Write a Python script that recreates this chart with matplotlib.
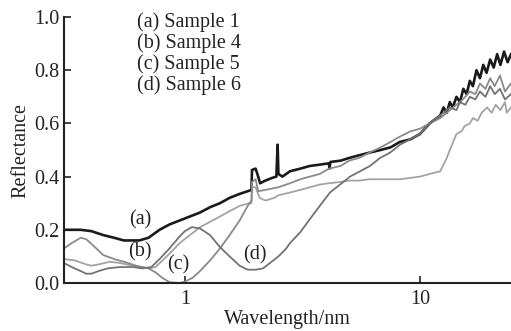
#!/usr/bin/env python3
# -*- coding: utf-8 -*-
# plot.py - reflectance spectra, samples 1/4/5/6

import numpy as np
from matplotlib import pyplot as plt

###############################################################################

# wavelength (nm) / reflectance
wl_a = [0.306, 0.36, 0.40, 0.45, 0.50, 0.55, 0.64, 0.70, 0.78, 0.86, 0.95,
        1.05, 1.16, 1.28, 1.41, 1.55, 1.71, 1.85, 1.92, 1.93, 2.0, 2.05,
        2.09, 2.2, 2.35, 2.45, 2.48, 2.50, 2.6, 2.8, 3.1, 3.4, 3.75, 4.1,
        4.12, 4.16, 4.6, 5.0, 5.5, 6.1, 6.8, 7.5, 8.2, 9.1, 10.0, 11.0,
        12.2, 12.6, 13.0, 13.4, 13.8, 14.3, 14.8, 15.3, 15.8, 16.3, 16.8,
        17.4, 18.0, 18.6, 19.2, 19.9, 20.6, 21.3, 22.0, 22.8, 23.6, 24.4]
r_a = [0.20, 0.20, 0.195, 0.18, 0.17, 0.16, 0.16, 0.17, 0.20, 0.22, 0.235,
       0.25, 0.265, 0.285, 0.30, 0.32, 0.335, 0.345, 0.35, 0.425, 0.43, 0.40,
       0.375, 0.385, 0.395, 0.40, 0.52, 0.41, 0.40, 0.42, 0.43, 0.44, 0.445,
       0.45, 0.43, 0.455, 0.46, 0.47, 0.48, 0.49, 0.50, 0.51, 0.53, 0.54,
       0.56, 0.60, 0.63, 0.66, 0.64, 0.68, 0.66, 0.70, 0.68, 0.73, 0.71,
       0.76, 0.74, 0.80, 0.77, 0.82, 0.79, 0.84, 0.81, 0.86, 0.82, 0.87,
       0.83, 0.86]

wl_b = [0.306, 0.34, 0.38, 0.40, 0.43, 0.48, 0.53, 0.60, 0.70, 0.75, 0.86,
        0.95, 1.05, 1.16, 1.28, 1.41, 1.55, 1.71, 1.88, 1.92, 1.93, 2.0,
        2.08, 2.2, 2.4, 2.5, 2.8, 3.1, 3.4, 3.75, 4.1, 4.6, 5.0, 5.5, 6.1,
        6.8, 7.5, 8.2, 9.1, 10.0, 11.0, 12.2, 13.0, 13.4, 14.3, 15.0, 15.5,
        16.3, 16.8, 17.6, 18.3, 19.3, 20.2, 21.0, 22.0, 23.0, 23.4, 24.4]
r_b = [0.09, 0.085, 0.07, 0.065, 0.07, 0.08, 0.075, 0.065, 0.055, 0.06,
       0.11, 0.15, 0.18, 0.21, 0.23, 0.25, 0.27, 0.29, 0.30, 0.30, 0.36,
       0.36, 0.32, 0.31, 0.32, 0.33, 0.34, 0.35, 0.36, 0.37, 0.375, 0.38,
       0.385, 0.385, 0.39, 0.39, 0.39, 0.39, 0.395, 0.40, 0.41, 0.42, 0.47,
       0.50, 0.56, 0.57, 0.59, 0.60, 0.62, 0.61, 0.64, 0.66, 0.64, 0.67,
       0.65, 0.68, 0.64, 0.66]

wl_c = [0.306, 0.33, 0.36, 0.38, 0.42, 0.45, 0.50, 0.55, 0.62, 0.70, 0.75,
        0.80, 0.86, 0.95, 1.0, 1.08, 1.16, 1.28, 1.41, 1.55, 1.71, 1.85,
        1.92, 1.93, 2.0, 2.05, 2.2, 2.5, 2.8, 3.1, 3.4, 3.75, 4.1, 4.6, 5.0,
        5.5, 6.1, 6.8, 7.5, 8.2, 9.1, 10.0, 11.0, 12.2, 13.0, 13.4, 14.3,
        14.8, 15.6, 16.3, 17.2, 18.0, 19.0, 19.9, 20.8, 21.9, 23.0, 24.4]
r_c = [0.13, 0.15, 0.17, 0.165, 0.13, 0.105, 0.09, 0.08, 0.065, 0.055,
       0.04, 0.02, 0.003, 0.0, 0.005, 0.02, 0.045, 0.085, 0.13, 0.18, 0.235,
       0.29, 0.31, 0.38, 0.39, 0.345, 0.35, 0.36, 0.375, 0.39, 0.40, 0.41,
       0.43, 0.44, 0.46, 0.47, 0.49, 0.51, 0.53, 0.55, 0.57, 0.58, 0.60,
       0.62, 0.64, 0.65, 0.67, 0.68, 0.70, 0.72, 0.71, 0.75, 0.73, 0.77,
       0.74, 0.78, 0.72, 0.75]

wl_d = [0.306, 0.33, 0.36, 0.38, 0.40, 0.43, 0.47, 0.53, 0.60, 0.66, 0.72,
        0.78, 0.86, 0.95, 1.0, 1.07, 1.16, 1.28, 1.41, 1.55, 1.71, 1.85, 2.0,
        2.15, 2.3, 2.5, 2.7, 2.8, 3.09, 3.4, 3.75, 4.14, 4.57, 5.04, 5.56,
        6.13, 6.76, 7.46, 8.23, 9.07, 10.0, 11.0, 12.2, 13.4, 14.3, 14.8,
        15.6, 16.3, 17.2, 18.0, 19.0, 19.9, 20.8, 21.9, 23.0, 24.4]
r_d = [0.075, 0.06, 0.045, 0.035, 0.035, 0.045, 0.055, 0.06, 0.06, 0.055,
       0.06, 0.09, 0.13, 0.175, 0.195, 0.21, 0.205, 0.18, 0.135, 0.10, 0.065,
       0.05, 0.05, 0.055, 0.075, 0.10, 0.13, 0.15, 0.19, 0.24, 0.29, 0.34,
       0.37, 0.40, 0.42, 0.44, 0.47, 0.49, 0.52, 0.54, 0.56, 0.60, 0.63, 0.66,
       0.65, 0.68, 0.67, 0.70, 0.69, 0.72, 0.70, 0.74, 0.71, 0.73, 0.69, 0.71]

labels = ['(a) Sample 1', '(b) Sample 4', '(c) Sample 5', '(d) Sample 6']
tags = ['(a)', '(b)', '(c)', '(d)']
tag_pos = [(0.643, 0.237), (0.643, 0.117), (0.934, 0.068), (1.98, 0.105)]

x_ticks = [1, 10]
y_ticks = [0.0, 0.2, 0.4, 0.6, 0.8, 1.0]

###############################################################################

def main():
  plt.rcParams['font.family'] = 'Liberation Serif'
  fs = 14.5
  fig = plt.figure(figsize=(5.11, 3.31), dpi=100)
  ax = fig.add_axes([64 / 511, 48 / 331, 447 / 511, 266 / 331])

  # curves
  ax.plot(wl_a, r_a, color='#1a1a1a', lw=1.9)
  ax.plot(wl_b, r_b, color='#a3a3a3', lw=1.3)
  ax.plot(wl_c, r_c, color='#8a8a8a', lw=1.3)
  ax.plot(wl_d, r_d, color='#737373', lw=1.3)

  ax.set_xscale('log')
  ax.set_xlim(0.306, 24.4)
  ax.set_ylim(0.0, 1.0)

  # ticks
  ax.set_xticks(x_ticks)
  ax.set_xticklabels([str(t) for t in x_ticks])
  ax.xaxis.set_minor_locator(plt.NullLocator())
  ax.set_yticks(y_ticks)
  ax.set_yticklabels(['%.1f' % t for t in y_ticks])
  ax.tick_params(direction='in', length=5, width=1.2, labelsize=fs,
                 colors='#222222')
  ax.tick_params(axis='x', pad=5)
  ax.tick_params(axis='y', pad=3)

  # contorno
  ax.spines['right'].set_visible(False)
  ax.spines['top'].set_visible(False)
  for s in ['left', 'bottom']:
    ax.spines[s].set_linewidth(1.5)
    ax.spines[s].set_color('#222222')

  ax.set_xlabel('Wavelength/nm', fontsize=fs, color='#222222', labelpad=1)
  ax.set_ylabel('Reflectance', fontsize=fs, color='#222222', labelpad=3)

  # leyenda como texto
  for i, lab in enumerate(labels):
    ax.text(0.163, 0.98 - i * 0.079, lab, transform=ax.transAxes,
            fontsize=fs, color='#222222', va='center', ha='left')

  # etiquetas de curvas
  for t, (x, y) in zip(tags, tag_pos):
    ax.text(x, y, t, fontsize=fs, color='#222222', ha='center', va='center')

  fig.savefig('out.png', dpi=100)

if __name__ == '__main__':
  main()
